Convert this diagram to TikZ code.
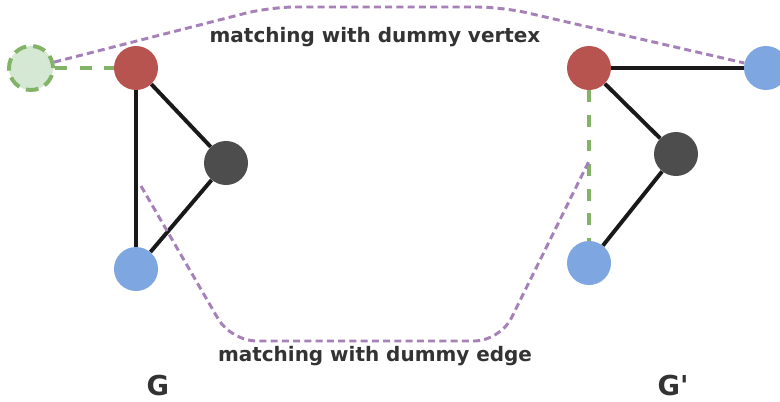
\documentclass[tikz,border=0pt]{standalone}
\usepackage{fontspec}
\setmainfont{DejaVu Sans}[Ligatures=TeXOff]
\definecolor{nodered}{HTML}{B85450}
\definecolor{nodedark}{HTML}{4D4D4D}
\definecolor{nodeblue}{HTML}{7EA6E0}
\definecolor{dummyfill}{HTML}{D5E8D4}
\definecolor{dummyline}{HTML}{82B366}
\definecolor{matchline}{HTML}{A680B8}
\definecolor{labeltext}{HTML}{333333}
\tikzset{
    vertex/.style={circle,inner sep=0pt,minimum size=1.1cm},
    dummyvertex/.style={vertex,fill=dummyfill,draw=dummyline,line width=2.8pt,dash pattern=on 9pt off 5pt},
    graphedge/.style={line width=2.8pt,black!90},
    dummyedge/.style={line width=2.8pt,dummyline,dash pattern=on 8.5pt off 9pt},
    matching/.style={line width=2.1pt,matchline,dash pattern=on 5pt off 3pt,rounded corners=18pt},
    caption/.style={font=\bfseries\fontsize{14.2}{16}\selectfont,text=labeltext},
    graphname/.style={font=\bfseries\fontsize{19.5}{21}\selectfont,text=labeltext}
}
\begin{document}
\begin{tikzpicture}[x=0.025cm,y=-0.025cm]
    \useasboundingbox (0,0) rectangle (780,401);

    % graph G
    \node[dummyvertex] (dv) at (31,68) {};
    \node[vertex,fill=nodered] (r1) at (136,68) {};
    \node[vertex,fill=nodedark] (k1) at (226,163) {};
    \node[vertex,fill=nodeblue] (b1) at (136,269) {};

    % graph G'
    \node[vertex,fill=nodered] (r2) at (589,68) {};
    \node[vertex,fill=nodeblue] (c2) at (766,68) {};
    \node[vertex,fill=nodedark] (k2) at (676,154) {};
    \node[vertex,fill=nodeblue] (b2) at (589,263) {};

    \draw[graphedge] (r1) -- (k1);
    \draw[graphedge] (k1) -- (b1);
    \draw[graphedge] (r1) -- (b1);
    \draw[graphedge] (r2) -- (c2);
    \draw[graphedge] (r2) -- (k2);
    \draw[graphedge] (k2) -- (b2);

    \draw[dummyedge] (dv) -- (r1);
    \draw[dummyedge] (r2) -- (b2);

    % matchings
    \coordinate (e1) at (141,186);
    \coordinate (e2) at (589,161);
    \draw[matching] (dv) -- (270,7) -- (502,7) -- (c2);
    \draw[matching] (e1) -- (231,341) -- (500,341) -- (e2);

    \node[caption] (mv) at (375,37) {matching with dummy vertex};
    \node[caption] (me) at (375,356) {matching with dummy edge};
    \node[graphname] (g1) at (158,386) {G};
    \node[graphname] (g2) at (673,386) {G\textquotesingle};
\end{tikzpicture}
\end{document}
